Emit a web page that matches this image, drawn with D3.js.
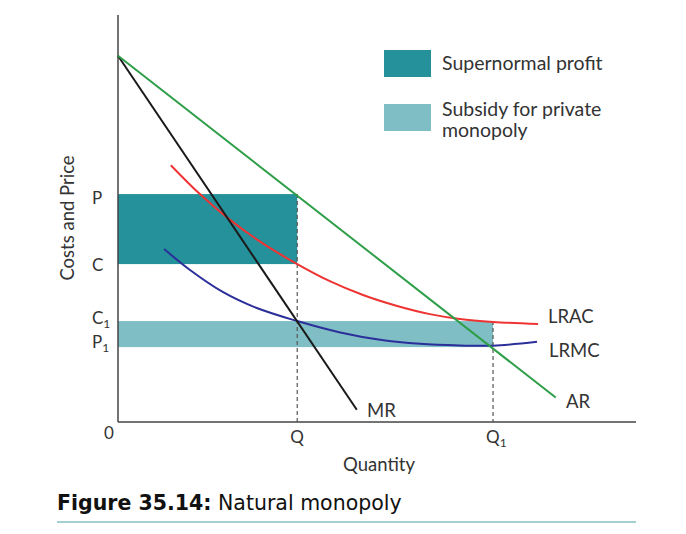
<!DOCTYPE html>
<html>
<head>
<meta charset="utf-8">
<script src="https://cdn.jsdelivr.net/npm/d3@7"></script>
<style>
  body { margin: 0; background: #fff; }
  text { font-family: Lato, "Open Sans", sans-serif; fill: #333; }
</style>
</head>
<body>
<svg id="chart" width="686" height="534"></svg>
<script>
// curves in chart units (quantity 0-100, price 0-100)
const arPts = [[0, 90], [84.5, 6]];
const mrPts = [[0, 90], [46.1, 3]];
const lracPts = [[10.2, 63.1], [15.8, 56.0], [21.2, 50.1], [27.8, 44.0], [34.6, 38.8], [40.9, 34.6], [47.3, 31.2],
  [53.9, 28.5], [60.2, 26.5], [66.0, 25.3], [72.4, 24.6], [81.1, 24.1]];
const lrmcPts = [[8.9, 42.5], [13.9, 37.35], [20.3, 31.9], [26.8, 28.0], [34.6, 24.8], [42.9, 22.0], [50.6, 20.2],
  [58.3, 19.2], [66.0, 18.8], [72.4, 18.75], [80.9, 19.7]];

// key levels
const qTicks = [{ name: "Q", sub: "", v: 34.6 }, { name: "Q", sub: "1", v: 72.4 }];
const pTicks = [{ name: "P", sub: "", v: 56 }, { name: "C", sub: "", v: 38.8 }, { name: "C", sub: "1", v: 24.8 }, { name: "P", sub: "1", v: 18.4 }];

const legendItems = [
  { lines: ["Supernormal profit"], color: "#25919b" },
  { lines: ["Subsidy for private", "monopoly"], color: "#80bec6" }
];

const svg = d3.select("#chart");

const x = d3.scaleLinear().domain([0, 100]).range([118, 636]);
const y = d3.scaleLinear().domain([0, 100]).range([422, 15]);

const Q = qTicks[0].v, Q1 = qTicks[1].v;
const P = pTicks[0].v, C = pTicks[1].v, C1 = pTicks[2].v, P1 = pTicks[3].v;

// shaded areas
svg.append("rect")
  .attr("x", x(0)).attr("y", y(P))
  .attr("width", x(Q) - x(0)).attr("height", y(C) - y(P))
  .style("fill", legendItems[0].color);

svg.append("rect")
  .attr("x", x(0)).attr("y", y(C1))
  .attr("width", x(Q1) - x(0)).attr("height", y(P1) - y(C1))
  .style("fill", legendItems[1].color);

// dashed drop lines
svg.append("line")
  .attr("x1", x(Q)).attr("x2", x(Q)).attr("y1", y(P)).attr("y2", y(0))
  .style("stroke", "#555").style("stroke-width", 1.2).style("stroke-dasharray", "4,3");
svg.append("line")
  .attr("x1", x(Q1)).attr("x2", x(Q1)).attr("y1", y(C1)).attr("y2", y(0))
  .style("stroke", "#555").style("stroke-width", 1.2).style("stroke-dasharray", "4,3");

// axes
svg.append("line")
  .attr("x1", x(0)).attr("x2", x(0)).attr("y1", y(100)).attr("y2", y(0))
  .style("stroke", "#444").style("stroke-width", 1.5);
svg.append("line")
  .attr("x1", x(0)).attr("x2", x(100)).attr("y1", y(0)).attr("y2", y(0))
  .style("stroke", "#444").style("stroke-width", 1.5);

const line = d3.line().x(d => x(d[0])).y(d => y(d[1]));
const curve = d3.line().x(d => x(d[0])).y(d => y(d[1])).curve(d3.curveCatmullRom);

svg.append("path").attr("d", curve(lrmcPts))
  .style("fill", "none").style("stroke", "#2b2f9a").style("stroke-width", 2);
svg.append("path").attr("d", curve(lracPts))
  .style("fill", "none").style("stroke", "#ee3433").style("stroke-width", 2);
svg.append("path").attr("d", line(mrPts))
  .style("fill", "none").style("stroke", "#1a1a1a").style("stroke-width", 2);
svg.append("path").attr("d", line(arPts))
  .style("fill", "none").style("stroke", "#2e9e48").style("stroke-width", 2);

// curve labels
const fs = "18.5px";
svg.append("text").attr("x", 548).attr("y", 323).text("LRAC").style("font-size", fs);
svg.append("text").attr("x", 549).attr("y", 357).text("LRMC").style("font-size", fs);
svg.append("text").attr("x", 566).attr("y", 408).text("AR").style("font-size", fs);
svg.append("text").attr("x", 367).attr("y", 417).text("MR").style("font-size", fs);

// price ticks labels
const pLabelY = [204, 271, 324, 348];
pTicks.forEach(function(d, i) {
  const t = svg.append("text").attr("x", 92).attr("y", pLabelY[i]).style("font-size", "17px").text(d.name);
  if (d.sub) t.append("tspan").attr("dy", 4).style("font-size", "12px").text(d.sub);
});
svg.append("text").attr("x", 104).attr("y", 439).text("0").style("font-size", "17px");

qTicks.forEach(function(d) {
  const t = svg.append("text").attr("x", x(d.v) - 7).attr("y", 443).style("font-size", "17px").text(d.name);
  if (d.sub) t.append("tspan").attr("dy", 4).style("font-size", "12px").text(d.sub);
});

svg.append("text").attr("x", 379).attr("y", 471).attr("text-anchor", "middle")
  .style("font-size", "18.5px").text("Quantity");
svg.append("text").attr("transform", "translate(74,218) rotate(-90)").attr("text-anchor", "middle")
  .style("font-size", "18.5px").text("Costs and Price");

// legend
legendItems.forEach(function(d, i) {
  const ly = 50 + i * 54;
  svg.append("rect").attr("x", 384).attr("y", ly).attr("width", 47).attr("height", 27)
    .style("fill", d.color);
  d.lines.forEach(function(s, j) {
    svg.append("text").attr("x", 442).attr("y", ly + 20 + (i === 1 ? -8 : 0) + j * 21)
      .style("font-size", "19.5px").text(s);
  });
});

// caption
const cap = svg.append("text").attr("x", 57).attr("y", 510)
  .style("font-family", "Verdana, 'DejaVu Sans', sans-serif").style("font-size", "20.5px").style("fill", "#111");
cap.append("tspan").style("font-weight", "bold").text("Figure 35.14:");
cap.append("tspan").text(" Natural monopoly");

svg.append("line").attr("x1", 57).attr("x2", 636).attr("y1", 522).attr("y2", 522)
  .style("stroke", "#4b9ea6").style("stroke-width", 1.2);
</script>
</body>
</html>
